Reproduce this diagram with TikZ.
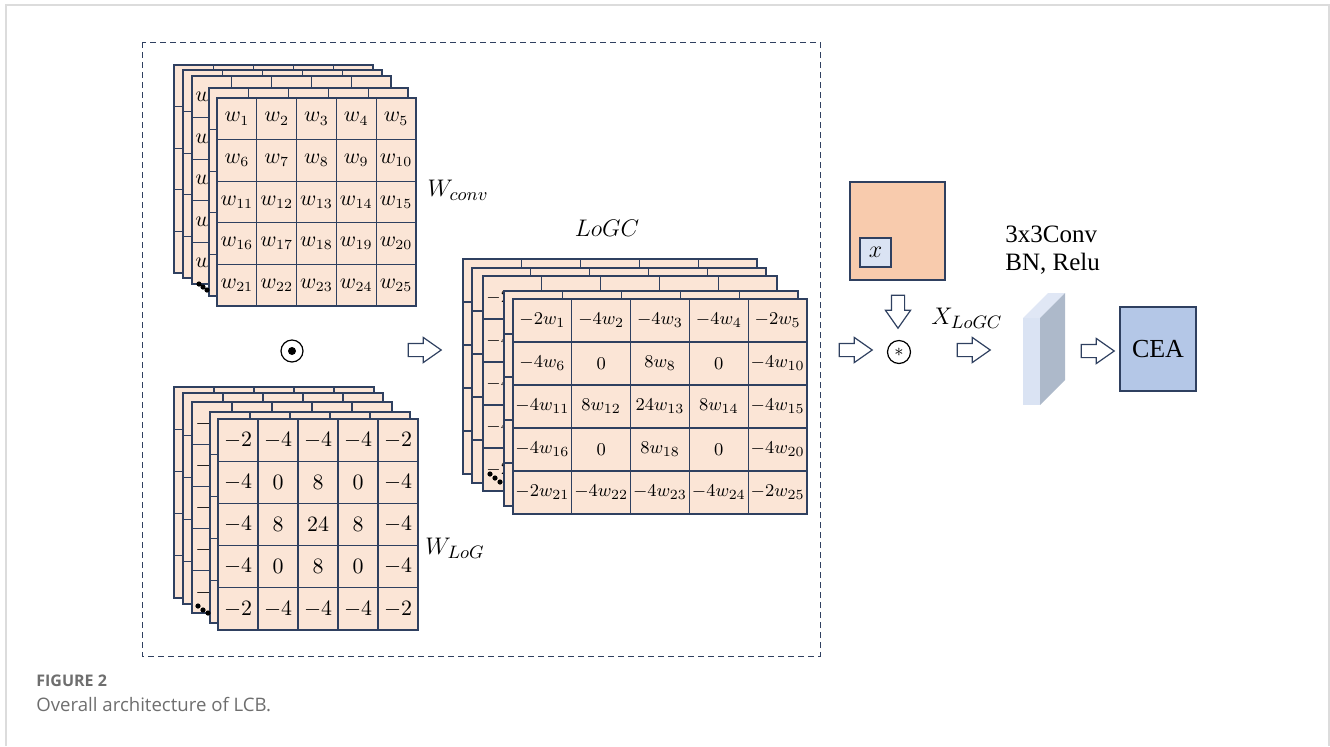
\documentclass[tikz,border=0pt]{standalone}
\usepackage{fontspec}
\newfontfamily\timesfont{Liberation Serif}
\newfontfamily\capfont{Open Sans}
\usetikzlibrary{positioning,shapes.arrows}
\definecolor{cellfill}{RGB}{251,229,214}
\definecolor{gridline}{RGB}{47,64,96}
\definecolor{feat}{RGB}{248,203,173}
\definecolor{lightblue}{RGB}{218,227,243}
\definecolor{ceablue}{RGB}{180,199,231}
\definecolor{slabside}{RGB}{173,185,202}
\definecolor{framegray}{RGB}{220,220,220}
\definecolor{capgray}{RGB}{110,110,110}

% one 5x5 kernel: name, x, y, cell width, cell height, entries (text on front layer only)
\newcommand{\kgrid}[6]{%
  \foreach \v [count=\k from 0] in {#6} {
    \pgfmathtruncatemacro{\kcol}{mod(\k,5)}
    \pgfmathtruncatemacro{\krow}{(\k-\kcol)/5}
    \node[cell, minimum width=#4*0.5pt, minimum height=#5*0.5pt]
      (#1-\k) at ({#2+(\kcol+0.5)*#4},{#3+(\krow+0.5)*#5}) {\ifnum\l=5 $\v$\fi};
  }}
% stack of kernels: name, x, y, cell width, cell height, layer offsets, entries, first column of layer 3
\newcommand{\kstack}[8]{%
  \foreach \dx/\dy [count=\l] in {#6} {
    \kgrid{#1\l}{#2+\dx}{#3+\dy}{#4}{#5}{#7}
    \ifnum\l=3
      \foreach \s [count=\r from 0] in {#8}
        \node[anchor=west, inner sep=0pt, cellfont] (#1side-\r) at ({#2+\dx+3},{#3+\dy+(\r+0.5)*#5}) {$\s$};
    \fi
  }}

\begin{document}
\begin{tikzpicture}[
    x=0.5pt, y=-0.5pt,
    cellfont/.style={font=\fontsize{10.5}{12}\selectfont},
    cell/.style={draw=gridline, fill=cellfill, line width=0.6pt, inner sep=0pt, cellfont},
    lbl/.style={inner sep=1pt, font=\fontsize{13}{15}\selectfont},
    harrow/.style={single arrow, draw=gridline, fill=white, line width=0.6pt, inner xsep=0pt, inner ysep=3pt,
        minimum height=16.5pt, single arrow head extend=3pt, single arrow tip angle=70},
    box/.style={draw=gridline, line width=0.6pt, inner sep=0pt},
    txt/.style={font=\timesfont\fontsize{12.5}{14}\selectfont}
]
    \useasboundingbox (0,0) rectangle (1330,746);
    % frame
    \draw[framegray, line width=1pt] (6,746) -- (6,5) -- (1329,5) -- (1329,746);

    % dashed block
    \draw[gridline, dash pattern=on 3pt off 2pt, line width=0.5pt] (142,42) rectangle (820,656);

    % W_conv
    \kstack{conv}{174}{65}{39.8}{41.6}{0/0,9/5,18/11,35/23,43/33}
      {w_{1},w_{2},w_{3},w_{4},w_{5},w_{6},w_{7},w_{8},w_{9},w_{10},
       w_{11},w_{12},w_{13},w_{14},w_{15},w_{16},w_{17},w_{18},w_{19},w_{20},
       w_{21},w_{22},w_{23},w_{24},w_{25}}
      {w,w,w,w,w}
    \foreach \px/\py in {199/284,203/287,207/290} \fill (\px,\py) circle (1.3pt);
    \node[lbl] (wconv) at (458,190) {$W_{conv}$};

    % W_LoG
    \kstack{log}{174}{387}{40}{42.2}{0/0,9/6,18/15,36/25,44/32}
      {-2,-4,-4,-4,-2,-4,0,8,0,-4,-4,8,24,8,-4,-4,0,8,0,-4,-2,-4,-4,-4,-2}
      {-2,-4,-4,-4,-2}
    \foreach \px/\py in {198/606,203/610,208/613} \fill (\px,\py) circle (1.3pt);
    \node[lbl] (wlog) at (455,548) {$W_{LoG}$};

    % hadamard product
    \node[circle, draw, line width=0.6pt, minimum size=11pt, inner sep=0pt] (had) at (292,351) {};
    \fill (had.center) circle (2pt);
    \node[harrow] (arr1) at (420,350) {};

    % LoGC
    \begin{scope}[cellfont/.style={font=\fontsize{9.5}{11}\selectfont}]
    \kstack{logc}{463}{259}{58.8}{43}{0/0,9/9,20/17,41/32,50/40}
      {-2w_{1},-4w_{2},-4w_{3},-4w_{4},-2w_{5},-4w_{6},0,8w_{8},0,-4w_{10},
       -4w_{11},8w_{12},24w_{13},8w_{14},-4w_{15},-4w_{16},0,8w_{18},0,-4w_{20},
       -2w_{21},-4w_{22},-4w_{23},-4w_{24},-2w_{25}}
      {-2,-4,-4,-4,-2}
    \end{scope}
    \foreach \px/\py in {490/474,495/478,500/482} \fill (\px,\py) circle (1.3pt);
    \node[lbl] (logc) at (607,228) {$LoGC$};

    % input feature and convolution
    \node[box, fill=feat, minimum width=47.5pt, minimum height=49pt] (feat) at (897.5,231) {};
    \node[box, fill=lightblue, minimum width=15.5pt, minimum height=14.5pt, font=\fontsize{12}{14}\selectfont] (patch) at (875.5,252.5) {$x$};
    \node[harrow, shape border rotate=270, inner xsep=3pt, inner ysep=0pt] (arr2) at (898,307) {};
    \node[harrow] (arr3) at (851,350) {};
    \node[circle, draw, line width=0.6pt, minimum size=11.5pt, inner sep=0pt, font=\small] (star) at (899,352) {$*$};
    \node[lbl] (xlogc) at (967,318) {$X_{LoGC}$};
    \node[harrow] (arr4) at (969,350) {};

    % 3x3 conv layer
    \fill[lightblue] (1023,318) rectangle (1040,405);
    \fill[lightblue!85!white] (1023,318) -- (1048,293) -- (1065,293) -- (1040,318) -- cycle;
    \fill[slabside] (1040,318) -- (1065,293) -- (1065,380) -- (1040,405) -- cycle;
    \node[txt, anchor=west, align=left, inner sep=0pt] (convtxt) at (1005,250) {3x3Conv\\BN, Relu};
    \node[harrow] (arr5) at (1093,351) {};

    % CEA
    \node[box, fill=ceablue, minimum width=38pt, minimum height=42pt, font=\timesfont\fontsize{13}{15}\selectfont] (cea) at (1158,349) {CEA};

    % caption
    \node[anchor=west, inner sep=0pt, text=capgray, font=\capfont\bfseries\fontsize{8}{10}\selectfont] (fig) at (36,681) {FIGURE 2};
    \node[anchor=west, inner sep=0pt, text=capgray, font=\capfont\fontsize{9.3}{11}\selectfont] (cap) at (36,705) {Overall architecture of LCB.};
\end{tikzpicture}
\end{document}
